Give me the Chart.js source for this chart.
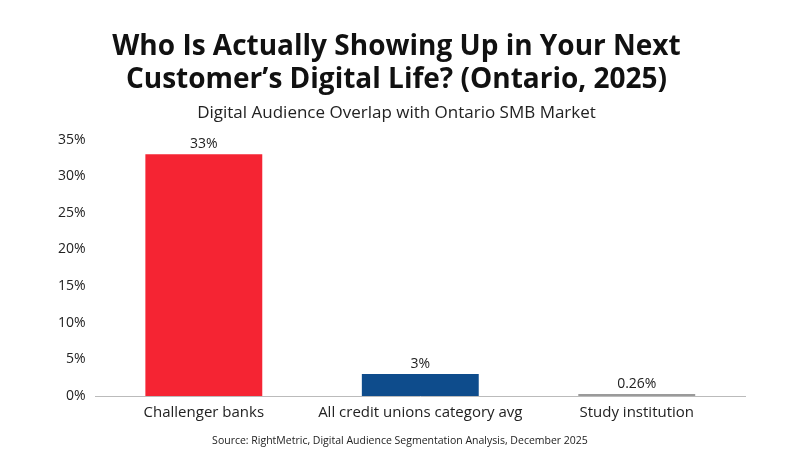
<!DOCTYPE html>
<html>
<head>
<meta charset="utf-8">
<script src="https://cdn.jsdelivr.net/npm/chart.js@4"></script>
<style>
  html, body { margin: 0; padding: 0; background: #fff; }
  #wrap { width: 800px; height: 472px; }
</style>
</head>
<body>
<div id="wrap"><canvas id="chart"></canvas></div>
<script>
// Chart data
const categories = ['Challenger banks', 'All credit unions category avg', 'Study institution'];
const overlapPct = [33, 3, 0.26];
const valueLabels = ['33%', '3%', '0.26%'];
const barColors = ['#F52433', '#0E4C8C', '#9A9A9A'];
const sourceText = 'Source: RightMetric, Digital Audience Segmentation Analysis, December 2025';

// Draws the value above each bar and the source line at the bottom
const labelsPlugin = {
    id: 'labels',
    afterDatasetsDraw(chart) {
        const ctx = chart.ctx;
        const meta = chart.getDatasetMeta(0);
        ctx.save();
        ctx.fillStyle = '#222';
        ctx.font = '14px "Open Sans", sans-serif';
        ctx.textAlign = 'center';
        ctx.textBaseline = 'bottom';
        meta.data.forEach((bar, i) => {
            ctx.fillText(valueLabels[i], bar.x, bar.y - 3);
        });
        ctx.font = '10.5px "Open Sans", sans-serif';
        ctx.textBaseline = 'middle';
        ctx.fillText(sourceText, 400, 441);
        ctx.restore();
    }
};

new Chart(document.getElementById('chart').getContext('2d'), {
    type: 'bar',
    data: {
        labels: categories,
        datasets: [{
            data: overlapPct,
            backgroundColor: barColors,
            barPercentage: 0.54,
            categoryPercentage: 1.0
        }]
    },
    options: {
        responsive: true,
        maintainAspectRatio: false,
        animation: false,
        layout: { padding: { left: 48, right: 55, top: 0, bottom: 42 } },
        plugins: {
            legend: { display: false },
            tooltip: { enabled: false },
            title: {
                display: true,
                text: ['Who Is Actually Showing Up in Your Next', 'Customer\u2019s Digital Life? (Ontario, 2025)'],
                color: '#111',
                font: { family: '"Open Sans", sans-serif', size: 28, weight: 'bold', lineHeight: 1.2 },
                padding: { top: 30, bottom: 6 }
            },
            subtitle: {
                display: true,
                text: 'Digital Audience Overlap with Ontario SMB Market',
                color: '#222',
                font: { family: '"Open Sans", sans-serif', size: 17 },
                padding: { top: 0, bottom: 16 }
            }
        },
        scales: {
            x: {
                grid: { display: false, drawTicks: false },
                border: { color: '#bbb' },
                ticks: { color: '#222', font: { family: '"Open Sans", sans-serif', size: 15 }, padding: 8 }
            },
            y: {
                min: 0,
                max: 35,
                grid: { display: false, drawTicks: false },
                border: { display: false },
                ticks: {
                    stepSize: 5,
                    color: '#222',
                    padding: 10,
                    font: { family: '"Open Sans", sans-serif', size: 14 },
                    callback: v => v + '%'
                }
            }
        }
    },
    plugins: [labelsPlugin]
});
</script>
</body>
</html>
